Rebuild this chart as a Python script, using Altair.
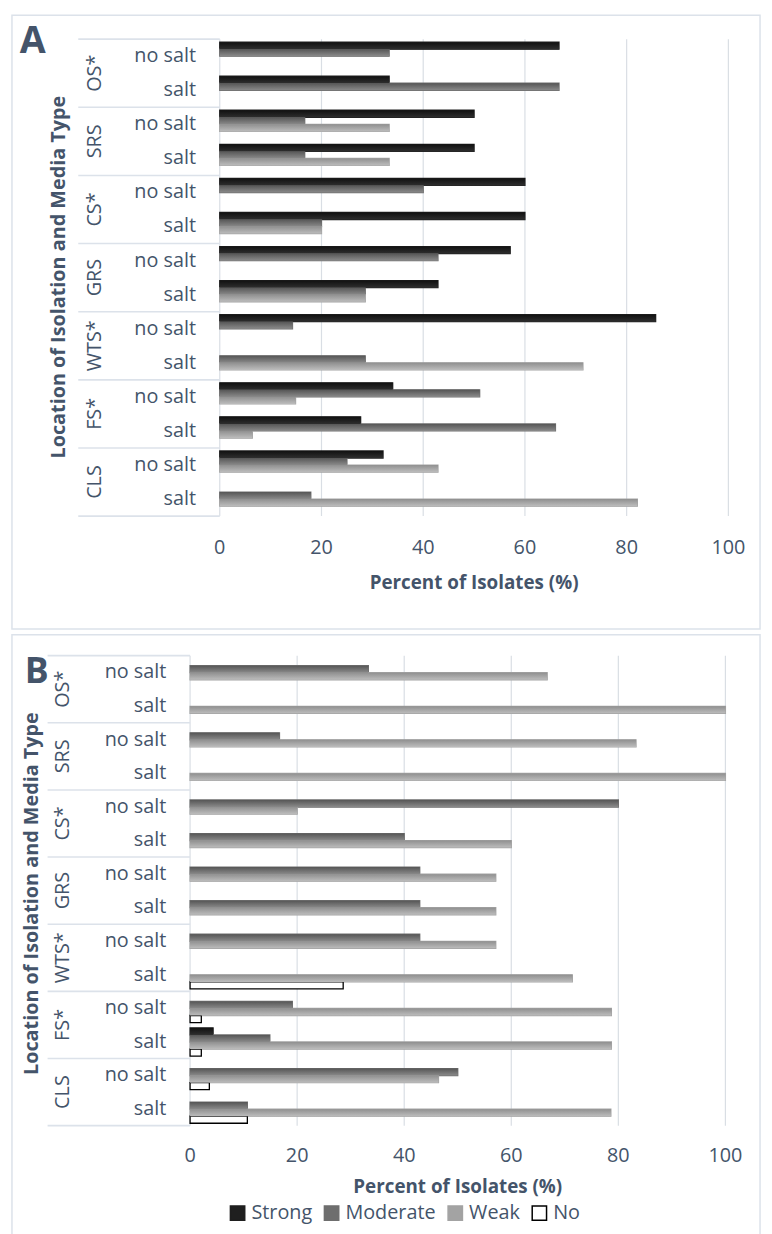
import altair as alt
import pandas as pd

locations = ["OS*", "SRS", "CS*", "GRS", "WTS*", "FS*", "CLS"]
media = ["no salt", "salt"]
series = ["Strong", "Moderate", "Weak", "No"]
ticks = [0, 20, 40, 60, 80, 100]

# Row order: OS* no salt, OS* salt, SRS no salt, SRS salt, ... CLS salt
a_strong = [66.7, 33.3, 50.0, 50.0, 60.0, 60.0, 57.1, 42.9, 85.7, 0.0, 34.0, 27.7, 32.1, 0.0]
a_moderate = [33.3, 66.7, 16.7, 16.7, 40.0, 20.0, 42.9, 28.6, 14.3, 28.6, 51.1, 66.0, 25.0, 17.9]
a_weak = [0.0, 0.0, 33.3, 33.3, 0.0, 20.0, 0.0, 28.6, 0.0, 71.4, 14.9, 6.4, 42.9, 82.1]
a_no = [0.0, 0.0, 0.0, 0.0, 0.0, 0.0, 0.0, 0.0, 0.0, 0.0, 0.0, 0.0, 0.0, 0.0]

b_strong = [0.0, 0.0, 0.0, 0.0, 0.0, 0.0, 0.0, 0.0, 0.0, 0.0, 0.0, 4.3, 0.0, 0.0]
b_moderate = [33.3, 0.0, 16.7, 0.0, 80.0, 40.0, 42.9, 42.9, 42.9, 0.0, 19.1, 14.9, 50.0, 10.7]
b_weak = [66.7, 100.0, 83.3, 100.0, 20.0, 60.0, 57.1, 57.1, 57.1, 71.4, 78.7, 78.7, 46.4, 78.6]
b_no = [0.0, 0.0, 0.0, 0.0, 0.0, 0.0, 0.0, 0.0, 0.0, 28.6, 2.1, 2.1, 3.6, 10.7]

TEXT = "#44546A"
GRID = "#D9DEE4"
FONT = "Open Sans"
fills = ["#1f1f1f", "#6e6e6e", "#a3a3a3", "#ffffff"]
strokes = ["#1f1f1f", "#6e6e6e", "#a3a3a3", "#000000"]
gradient_stops = {
    "Strong": ["#111111", "#2e2e2e"],
    "Moderate": ["#565656", "#8a8a8a"],
    "Weak": ["#909090", "#bcbcbc"],
}

row_loc = [loc for loc in locations for m in media]
row_med = [m for loc in locations for m in media]
row_key = [f"{l}|{m}" for l, m in zip(row_loc, row_med)]
rows_df = pd.DataFrame({"key": row_key, "loc": row_loc, "med": row_med})
ticks_df = pd.DataFrame({"v": ticks})


def make_df(vals):
    recs = []
    for s, arr in zip(series, vals):
        for k, v in zip(row_key, arr):
            recs.append({"key": k, "series": s, "value": v})
    return pd.DataFrame(recs)


legend = alt.Legend(
    title=None, orient="none", direction="horizontal", legendX=222, legendY=1201,
    symbolType="square", symbolSize=210, symbolStrokeWidth=1.5, labelFont=FONT,
    labelFontSize=20, labelColor=TEXT, labelOffset=4, columnPadding=8,
)

off_scale = alt.Scale(domain=series, range=[3, 31.5])


def panel(vals, xr, yr, tick_y, title_y, ytitle_xy, loc_x, med_x, table_left,
          letter, letter_xy, letter_size, border_y):
    xs = alt.Scale(domain=[0, 100], range=xr)
    ys = alt.Scale(domain=row_key, range=yr, paddingInner=0, paddingOuter=0)
    df = make_df(vals)

    border = alt.Chart(pd.DataFrame({"a": [0]})).mark_rect(
        fill="transparent", stroke="#DCE2EA", strokeWidth=1.5
    ).encode(x=alt.value(4), x2=alt.value(760), y=alt.value(border_y[0]), y2=alt.value(border_y[1]))

    grid = alt.Chart(ticks_df).mark_rule(color=GRID, strokeWidth=1.2).encode(
        x=alt.X("v:Q", scale=xs, axis=None), y=alt.value(yr[0]), y2=alt.value(yr[1])
    )

    first_rows = rows_df[rows_df["med"] == "no salt"]
    seps = alt.Chart(first_rows).mark_rule(color="#DCE2EA", strokeWidth=1.6).encode(
        y=alt.Y("key:N", scale=ys, axis=None, bandPosition=0),
        x=alt.value(table_left), x2=alt.value(xr[0]),
    )
    last_row = rows_df.tail(1)
    sep_bottom = alt.Chart(last_row).mark_rule(color="#DCE2EA", strokeWidth=1.6).encode(
        y=alt.Y("key:N", scale=ys, axis=None, bandPosition=1),
        x=alt.value(table_left), x2=alt.value(xr[0]),
    )

    salt_rows = rows_df[rows_df["med"] == "salt"]
    loc_labels = alt.Chart(salt_rows).mark_text(
        angle=270, align="center", baseline="middle", font=FONT, fontSize=20, color=TEXT
    ).encode(y=alt.Y("key:N", scale=ys, axis=None, bandPosition=0), x=alt.value(loc_x), text="loc:N")

    med_labels = alt.Chart(rows_df).mark_text(
        align="right", baseline="middle", font=FONT, fontSize=20, color=TEXT
    ).encode(y=alt.Y("key:N", scale=ys, axis=None), x=alt.value(med_x), text="med:N")

    shadow = alt.Chart(df).transform_filter("datum.value > 0").mark_bar(
        color="#9a9a9a", opacity=0.35, yOffset=2, y2Offset=2.5, x2Offset=2.5
    ).encode(
        y=alt.Y("key:N", scale=ys, axis=None),
        yOffset=alt.YOffset("series:N", scale=off_scale),
        x=alt.X("value:Q", scale=xs, axis=None, stack=False),
    )

    bars = alt.Chart(df).transform_filter("datum.value > 0").mark_bar(strokeWidth=1.3).encode(
        y=alt.Y("key:N", scale=ys, axis=None),
        yOffset=alt.YOffset("series:N", scale=off_scale),
        x=alt.X("value:Q", scale=xs, axis=None, stack=False),
        fill=alt.Fill("series:N", scale=alt.Scale(domain=series, range=fills), legend=legend),
        stroke=alt.Stroke("series:N", scale=alt.Scale(domain=series, range=strokes), legend=legend),
    )

    shade_layers = []
    for s, (c0, c1) in gradient_stops.items():
        grad = alt.LinearGradient(
            gradient="linear", x1=0, x2=0, y1=0, y2=1,
            stops=[alt.GradientStop(color=c0, offset=0), alt.GradientStop(color=c1, offset=1)],
        )
        shade_layers.append(
            alt.Chart(df).transform_filter(f"datum.value > 0 && datum.series == '{s}'")
            .mark_bar(color=grad).encode(
                y=alt.Y("key:N", scale=ys, axis=None),
                yOffset=alt.YOffset("series:N", scale=off_scale),
                x=alt.X("value:Q", scale=xs, axis=None, stack=False),
            )
        )

    tick_labels = alt.Chart(ticks_df).mark_text(
        baseline="middle", align="center", font=FONT, fontSize=20, color=TEXT
    ).encode(x=alt.X("v:Q", scale=xs, axis=None), y=alt.value(tick_y), text="v:Q")

    xtitle = alt.Chart(pd.DataFrame({"t": ["Percent of Isolates (%)"]})).mark_text(
        baseline="middle", align="center", font=FONT, fontSize=19, fontWeight="bold", color=TEXT
    ).encode(x=alt.value((xr[0] + xr[1]) / 2), y=alt.value(title_y), text="t:N")

    ytitle = alt.Chart(pd.DataFrame({"t": ["Location of Isolation and Media Type"]})).mark_text(
        angle=270, baseline="middle", align="center", font=FONT, fontSize=20, fontWeight="bold", color=TEXT
    ).encode(x=alt.value(ytitle_xy[0]), y=alt.value(ytitle_xy[1]), text="t:N")

    letter_mark = alt.Chart(pd.DataFrame({"t": [letter]})).mark_text(
        baseline="middle", align="center", font=FONT, fontSize=letter_size, fontWeight="bold", color=TEXT
    ).encode(x=alt.value(letter_xy[0]), y=alt.value(letter_xy[1]), text="t:N")

    return alt.layer(border, grid, seps, sep_bottom, loc_labels, med_labels, shadow, bars,
                     *shade_layers, tick_labels, xtitle, ytitle, letter_mark)


pA = panel([a_strong, a_moderate, a_weak, a_no], xr=[214, 728], yr=[25, 507],
           tick_y=539, title_y=575, ytitle_xy=(52, 265.5), loc_x=88, med_x=190,
           table_left=71, letter="A", letter_xy=(25, 28), letter_size=38, border_y=(0.75, 621))
pB = panel([b_strong, b_moderate, b_weak, b_no], xr=[184, 725], yr=[648, 1123],
           tick_y=1154, title_y=1185, ytitle_xy=(24, 888.5), loc_x=55.5, med_x=160,
           table_left=40, letter="B", letter_xy=(29, 665), letter_size=36, border_y=(627, 1240))

chart = alt.layer(pA, pB).resolve_scale(x="independent", y="independent").properties(
    width=764, height=1226, padding=0, autosize=alt.AutoSizeParams(type="none")
).configure_view(stroke=None)

chart.save("out.html", embed_options={"renderer": "svg", "actions": False})
